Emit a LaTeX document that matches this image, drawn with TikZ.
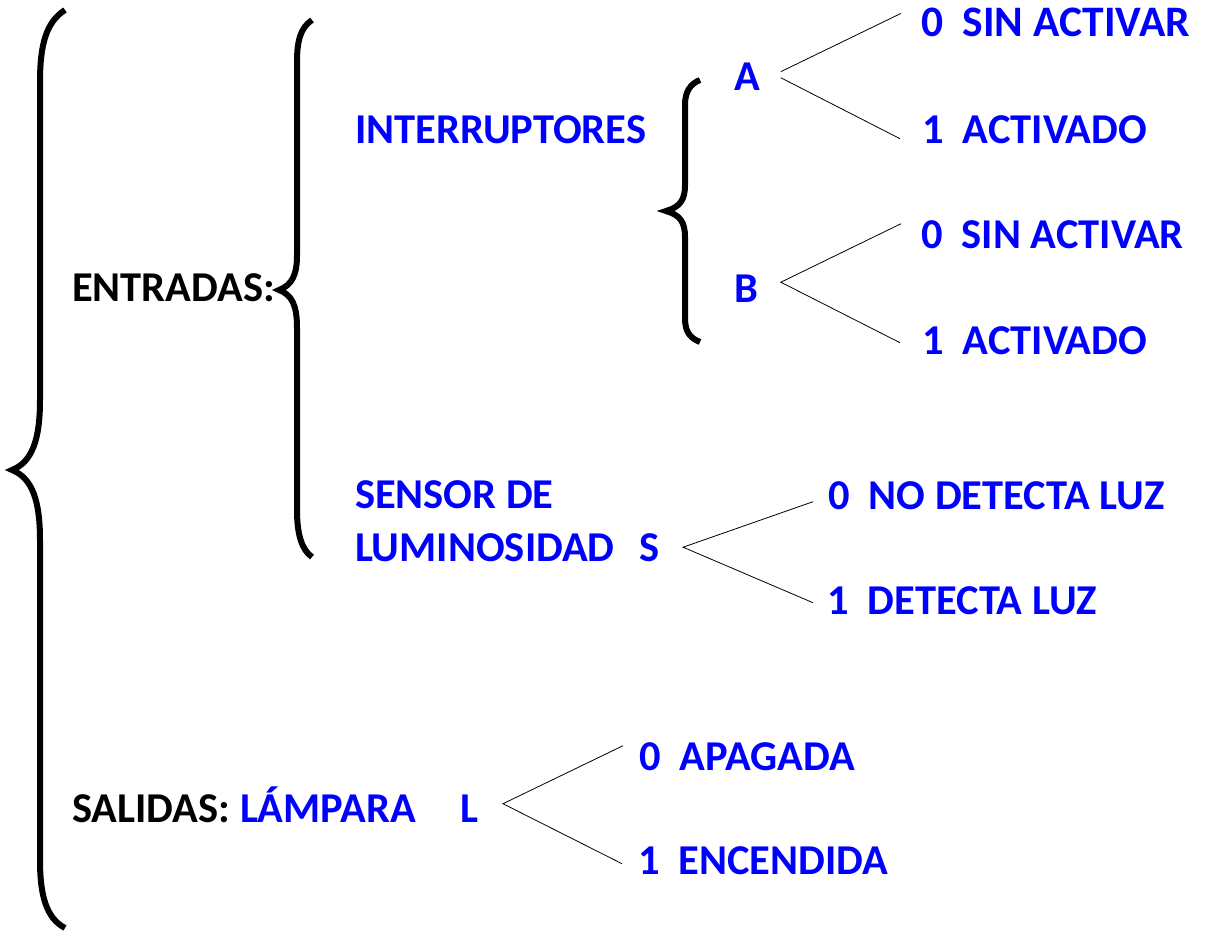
\documentclass[tikz,border=0pt]{standalone}
\usepackage{fontspec}
\setmainfont{Carlito}
\definecolor{lblue}{RGB}{0,0,255}
\begin{document}
\begin{tikzpicture}[x=1pt,y=-1pt,
  lbl/.style={anchor=base west,inner sep=0pt,outer sep=0pt,text=lblue,font=\fontsize{42.5}{50}\selectfont\bfseries},
  blk/.style={text=black},
  bracestyle/.style={line width=6pt,line join=miter,line cap=butt},
  conn/.style={line width=0.8pt}]
\useasboundingbox (0,0) rectangle (1205,931);
% braces
\draw[bracestyle] (65,10) .. controls (46,22) and (40,45) .. (40,82) -- (40,400)
  .. controls (40,440) and (32,462) .. (12,470) .. controls (32,478) and (40,500) .. (40,540)
  -- (40,860) .. controls (40,895) and (46,918) .. (65,928);
\draw[bracestyle] (312,20) .. controls (300,28) and (297,42) .. (297,62) -- (297,255)
  .. controls (297,275) and (292,285) .. (279,290) .. controls (292,295) and (297,305) .. (297,328)
  -- (297,510) .. controls (297,535) and (302,550) .. (312,557);
\draw[bracestyle] (700,80) .. controls (690,84) and (685,92) .. (685,105) -- (685,185)
  .. controls (685,200) and (680,207) .. (666,211) .. controls (680,215) and (685,222) .. (685,237)
  -- (685,318) .. controls (685,332) and (690,338) .. (700,342);
% labels
\node[lbl,blk] (entradas) at (72,301) {ENTRADAS:};
\node[lbl] (interr) at (355,144) {INTERRUPTORES};
\node[lbl] (A) at (734,91) {A};
\node[lbl] (B) at (734,302) {B};
\node[lbl,font=\fontsize{43.5}{50}\selectfont\bfseries] (a0) at (921,37) {0~~SIN ACTIVAR};
\node[lbl] (a1) at (922,144) {1~~ACTIVADO};
\node[lbl] (b0) at (921,248) {0~~SIN ACTIVAR};
\node[lbl] (b1) at (922,354) {1~~ACTIVADO};
\node[lbl] (sensor) at (355,508) {SENSOR DE};
\node[lbl] (lumin) at (355,561) {LUMINOSIDAD};
\node[lbl] (S) at (639,561) {S};
\node[lbl] (s0) at (828,509) {0~~NO DETECTA LUZ};
\node[lbl] (s1) at (827,614) {1~~DETECTA LUZ};
\node[lbl,blk] (salidas) at (72,822) {SALIDAS:};
\node[lbl] (lampara) at (240,822) {LÁMPARA};
\node[lbl] (L) at (460,822) {L};
\node[lbl] (l0) at (639,770) {0~~APAGADA};
\node[lbl] (l1) at (638,874) {1~~ENCENDIDA};
% connectors
\draw[conn] ([shift={(21,-5.5)}]A.east) -- ([shift={(-20,-9.5)}]a0.west);
\draw[conn] ([shift={(21,0.5)}]A.east) -- ([shift={(-22,8.5)}]a1.west);
\draw[conn] ([shift={(-20,-10.5)}]b0.west) -- ([shift={(23,-6)}]B.east) -- ([shift={(-22,2.5)}]b1.west);
\draw[conn] ([shift={(-15,6.5)}]s0.west) -- ([shift={(24,0)}]S.east) -- ([shift={(-14,2.5)}]s1.west);
\draw[conn] ([shift={(-16,-10.5)}]l0.west) -- ([shift={(25,-4.5)}]L.east) -- ([shift={(-16,3.5)}]l1.west);
\end{tikzpicture}
\end{document}
